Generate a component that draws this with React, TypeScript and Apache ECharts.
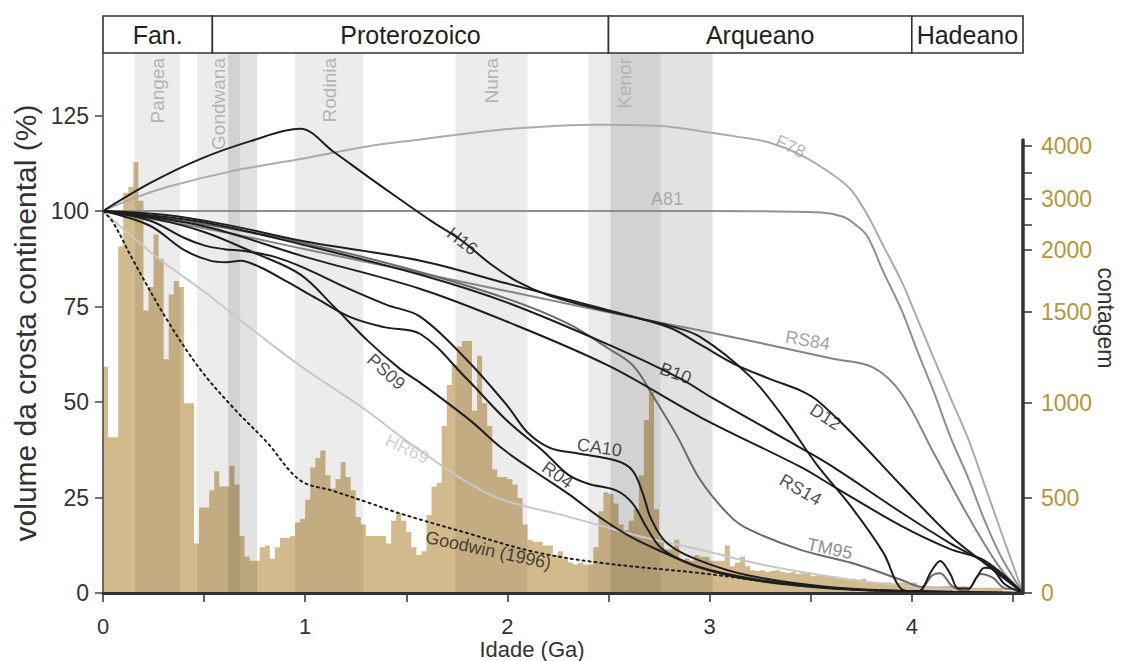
import React, { useEffect, useRef } from "react";
import * as echarts from "echarts";

// ---------------- DATA ----------------
// Eons (header boxes), Ga
const EONS = ["Fan.", "Proterozoico", "Arqueano", "Hadeano"];
const EON_START = [0, 0.541, 2.5, 4.0];
const EON_END = [0.541, 2.5, 4.0, 4.55];

// Supercontinent bands, Ga
const SC_NAMES = ["Pangea", "Gondwana", "Rodinia", "Nuna", "Kenor"];
const SC_START = [0.158, 0.465, 0.95, 1.743, 2.4];
const SC_END = [0.381, 0.762, 1.287, 2.099, 3.015];
const SC_PEAK_START: (number | null)[] = [null, 0.619, null, null, 2.51];
const SC_PEAK_END: (number | null)[] = [null, 0.678, null, null, 2.757];

// Axis ticks
const X_TICKS = [0, 0.5, 1, 1.5, 2, 2.5, 3, 3.5, 4, 4.5];
const X_LABELS = [0, 1, 2, 3, 4];
const Y_TICKS = [0, 25, 50, 75, 100, 125];
const COUNT_TICKS = [0, 500, 1000, 1500, 2000, 2500, 3000, 3500, 4000];
const COUNT_LABELS = [0, 500, 1000, 1500, 2000, 3000, 4000];
// position of each count tick on the (non-linear) count axis, in % units of the left axis
const COUNT_TICK_POS = [0, 24.9, 49.7, 73.6, 89.8, 96.3, 103.1, 110, 117];

// Zircon age histogram (counts), bins of 0.025 Ga starting at 0
const HIST_BIN = 0.025;
const HIST_COUNTS = [
  1200, 820, 820, 2070, 3120, 3230, 3700, 2970, 1510, 1700,
  2310, 1930, 1240, 1640, 1750, 1700, 1000, 1000, 260, 450,
  450, 540, 640, 560, 560, 670, 570, 300, 190, 170,
  170, 240, 250, 180, 240, 290, 290, 300, 370, 390,
  490, 660, 710, 750, 620, 550, 600, 690, 610, 540,
  400, 360, 300, 300, 300, 300, 260, 380, 420, 380,
  320, 240, 200, 220, 410, 560, 580, 880, 1100, 1210,
  1310, 1340, 1340, 960, 1260, 1000, 880, 650, 610, 610,
  600, 570, 500, 360, 280, 270, 270, 250, 250, 200,
  220, 180, 160, 150, 160, 150, 150, 240, 430, 530,
  520, 470, 360, 330, 380, 440, 620, 910, 1060, 440,
  290, 230, 230, 280, 170, 180, 170, 200, 190, 190,
  170, 170, 170, 250, 140, 160, 190, 140, 120, 115,
  120, 110, 115, 120, 110, 105, 110, 100, 105, 110,
  90, 95, 90, 85, 90, 75, 75, 70, 75, 70,
  75, 55, 55, 50, 55, 55, 50, 55, 55, 50,
  55, 35, 38, 35, 36, 35, 38, 36, 35, 36,
  35, 28, 28, 27, 28, 28, 27, 28, 12, 12,
  12, 12,
];

// Crustal growth curves: [age Ga, volume %]
const F78 = [[0, 100], [0.15, 103.3], [0.317, 106.3], [0.644, 110.5], [0.975, 113.6], [1.307, 116.9], [1.57, 118.7], [1.965, 121.3], [2.46, 122.6], [2.75, 122.3], [2.955, 120.9], [3.12, 119.6], [3.29, 118], [3.45, 114.7], [3.61, 109.5], [3.7, 105.5], [3.78, 99], [3.86, 90.8], [3.95, 81.5], [4.03, 71.5], [4.11, 61.3], [4.19, 51.3], [4.28, 40.2], [4.36, 28.3], [4.44, 16.3], [4.55, 0]];
const A81 = [[0, 100], [1.0, 100], [2.0, 100], [3.0, 100], [3.55, 99.6], [3.66, 98.5], [3.72, 96.5], [3.78, 93.4], [3.86, 84], [3.95, 74], [4.03, 63], [4.11, 52.5], [4.19, 41], [4.28, 30], [4.36, 19], [4.44, 9.7], [4.55, 0]];
const RS84 = [[0, 100], [0.5, 95.5], [1.0, 90], [1.5, 84.5], [2.0, 79], [2.5, 73.5], [2.955, 68.7], [3.29, 65], [3.61, 61.3], [3.81, 59], [3.95, 52.1], [4.11, 36.5], [4.28, 20], [4.44, 6.3], [4.55, 0]];
const TM95 = [[0, 100], [0.5, 96.5], [1.0, 91.5], [1.5, 85], [2.0, 77], [2.3, 70.5], [2.5, 64], [2.624, 59.4], [2.723, 51.3], [2.84, 41], [2.955, 29.5], [3.104, 20], [3.2, 16.5], [3.45, 11.3], [3.7, 7.9], [3.95, 3.4], [4.01, 2.1], [4.05, 1.6], [4.1, 4.6], [4.14, 5.2], [4.2, 1.8], [4.27, 0.5], [4.34, 5], [4.4, 4], [4.46, 1.2], [4.51, 1], [4.55, 0]];
const HR69 = [[0, 100], [0.15, 93], [0.3, 86.5], [0.48, 79.7], [0.75, 68.5], [0.975, 59.5], [1.31, 47.5], [1.47, 41], [1.63, 35], [1.8, 29], [1.97, 24.5], [2.3, 20], [2.63, 15.2], [2.955, 11.3], [3.3, 7], [3.7, 3.5], [4.1, 1.2], [4.55, 0]];
const GOODWIN = [[0, 100], [0.05, 97], [0.15, 87], [0.317, 71.5], [0.48, 58.6], [0.644, 48.5], [0.81, 39.5], [0.975, 29.5], [1.14, 26.7], [1.31, 23.7], [1.47, 20.8], [1.8, 15.7], [2.13, 10.8], [2.46, 7.9], [2.955, 5.2], [3.45, 2], [3.9, 0.5], [4.55, 0]];
const H16 = [[0, 100], [0.232, 107.3], [0.48, 113.6], [0.73, 118.3], [0.975, 121.5], [1.14, 115.5], [1.31, 109], [1.47, 103], [1.62, 97.5], [1.77, 92.4], [1.92, 86], [2.05, 81.5], [2.2, 78], [2.4, 75], [2.6, 72.5], [2.8, 70], [2.955, 67], [3.2, 56.7], [3.37, 45.7], [3.53, 33.6], [3.7, 22.6], [3.86, 10.5], [3.95, 1], [4.03, 0.3], [4.1, 6], [4.14, 8.4], [4.19, 5], [4.23, 1.2], [4.28, 1.2], [4.32, 4], [4.36, 6.6], [4.4, 6.2], [4.46, 2.3], [4.55, 0]];
const D12 = [[0, 100], [0.3, 99], [0.6, 96.5], [1.0, 92], [1.57, 87], [2.0, 81], [2.5, 74], [2.8, 69.5], [2.955, 65], [3.12, 60], [3.3, 56], [3.45, 53], [3.53, 50.5], [3.7, 42], [3.95, 28], [4.19, 15], [4.36, 7.8], [4.55, 0]];
const B10 = [[0, 100], [0.5, 97], [1.0, 91], [1.57, 83.3], [2.0, 76], [2.5, 65], [2.86, 56], [3.0, 51.5], [3.45, 38], [3.61, 33], [3.95, 21], [4.19, 13], [4.36, 8], [4.55, 0]];
const RS14 = [[0, 100], [0.5, 96], [1.0, 88], [1.57, 79.6], [2.0, 71], [2.5, 59.5], [2.955, 46], [3.45, 33], [3.61, 28], [3.95, 17.5], [4.19, 11.5], [4.36, 8.5], [4.55, 0]];
const CA10 = [[0, 100], [0.23, 97.5], [0.4, 93], [0.5, 91], [0.6, 90], [0.7, 89.5], [0.85, 88], [1.0, 85], [1.2, 80], [1.4, 75.5], [1.57, 72.3], [1.8, 61], [2.0, 49], [2.1, 42], [2.21, 38], [2.35, 36.5], [2.54, 34.6], [2.62, 32], [2.67, 26], [2.71, 19.5], [2.79, 13], [2.955, 8.4], [3.2, 4.5], [3.6, 1.5], [4.0, 0.5], [4.55, 0]];
const R04 = [[0, 100], [0.23, 96.2], [0.4, 89.8], [0.53, 87], [0.61, 86.6], [0.68, 87], [0.78, 85.2], [0.91, 81.5], [1.06, 77], [1.22, 72.3], [1.39, 69.6], [1.57, 67.8], [1.8, 56], [2.0, 45], [2.18, 37], [2.3, 31], [2.4, 28.6], [2.54, 26.8], [2.62, 23.4], [2.69, 17], [2.76, 11.8], [2.87, 8.4], [3.0, 6], [3.3, 3], [3.7, 1], [4.2, 0.3], [4.55, 0]];
const PS09 = [[0, 100], [0.25, 98], [0.5, 94.5], [0.75, 89], [0.975, 83.4], [1.14, 75.1], [1.31, 66], [1.47, 58.6], [1.57, 55], [1.82, 45], [1.97, 38], [2.13, 32], [2.3, 26], [2.46, 19.7], [2.62, 14.4], [2.79, 10.2], [2.955, 6.6], [3.2, 3.5], [3.6, 1.2], [4.0, 0.4], [4.55, 0]];

// ---------------- STYLE / LAYOUT ----------------
const FONT = "'Liberation Sans', Arial, Helvetica, sans-serif";
const NARROW = "'Liberation Sans Narrow', 'Arial Narrow', 'Liberation Sans', Arial, sans-serif";
const X_MAX = 4.55;
const GRID_LEFT = 103;
const GRID_RIGHT = 108;
const GRID_BOTTOM = 68;
const MAIN_TOP = 53;
const COUNT_TOP = 140;
const PX_PER_UNIT = 3.82;
const H = 661;
const MAIN_MAX = (H - GRID_BOTTOM - MAIN_TOP) / PX_PER_UNIT;
const COUNT_MAX = (H - GRID_BOTTOM - COUNT_TOP) / PX_PER_UNIT;

const BLACK = "#1e1e1e";

const CURVES: { name: string; data: number[][]; color: string; width: number; dotted?: boolean }[] = [
  { name: "F78", data: F78, color: "#ababab", width: 2 },
  { name: "A81", data: A81, color: "#8f8f8f", width: 2 },
  { name: "HR69", data: HR69, color: "#c8c8c8", width: 2 },
  { name: "RS84", data: RS84, color: "#858585", width: 2 },
  { name: "TM95", data: TM95, color: "#6a6a6a", width: 2 },
  { name: "Goodwin (1996)", data: GOODWIN, color: BLACK, width: 2, dotted: true },
  { name: "H16", data: H16, color: BLACK, width: 2 },
  { name: "D12", data: D12, color: BLACK, width: 2 },
  { name: "B10", data: B10, color: BLACK, width: 2 },
  { name: "RS14", data: RS14, color: BLACK, width: 2 },
  { name: "CA10", data: CA10, color: BLACK, width: 2 },
  { name: "R04", data: R04, color: BLACK, width: 2 },
  { name: "PS09", data: PS09, color: BLACK, width: 2 },
];

// curve annotations (anchor in data coords)
const LINE_LABELS = [
  { text: "H16", at: [1.777, 92.1], rotate: -38, color: BLACK },
  { text: "PS09", at: [1.4, 57.9], rotate: -42, color: BLACK },
  { text: "HR69", at: [1.505, 37.7], rotate: -25, color: "#c5c5c5" },
  { text: "Goodwin (1996)", at: [1.906, 11.2], rotate: -12, color: BLACK },
  { text: "R04", at: [2.248, 30.9], rotate: -35, color: BLACK },
  { text: "CA10", at: [2.455, 38.1], rotate: -8, color: BLACK },
  { text: "B10", at: [2.832, 57.5], rotate: -20, color: BLACK },
  { text: "D12", at: [3.574, 46.1], rotate: -33, color: BLACK },
  { text: "RS14", at: [3.45, 27], rotate: -30, color: BLACK },
  { text: "TM95", at: [3.594, 11.6], rotate: -12, color: "#6f6f6f" },
  { text: "RS84", at: [3.485, 66.1], rotate: -10, color: "#8a8a8a" },
  { text: "F78", at: [3.4, 116.9], rotate: -25, color: "#a5a5a5" },
  { text: "A81", at: [2.79, 103.1], rotate: 0, color: "#9a9a9a" },
];

function countToPos(c: number): number {
  for (let i = 1; i < COUNT_TICKS.length; i++) {
    if (c <= COUNT_TICKS[i]) {
      const t = (c - COUNT_TICKS[i - 1]) / (COUNT_TICKS[i] - COUNT_TICKS[i - 1]);
      return COUNT_TICK_POS[i - 1] + t * (COUNT_TICK_POS[i] - COUNT_TICK_POS[i - 1]);
    }
  }
  return COUNT_TICK_POS[COUNT_TICK_POS.length - 1];
}

function buildOption(): any {
  const histData: number[][] = HIST_COUNTS.map((c, i) => [i * HIST_BIN, countToPos(c)]);
  histData.push([HIST_COUNTS.length * HIST_BIN, countToPos(HIST_COUNTS[HIST_COUNTS.length - 1])]);

  const countLabelPos = COUNT_LABELS.map((c) => countToPos(c));

  const lineSeries = CURVES.map((c) => ({
    type: "line",
    name: c.name,
    xAxisIndex: 0,
    yAxisIndex: 0,
    data: c.data,
    smooth: 0.35,
    symbol: "none",
    silent: true,
    z: 3,
    lineStyle: {
      color: c.color,
      width: c.width,
      type: c.dotted ? [2, 4] : "solid",
      cap: c.dotted ? "round" : "butt",
    },
  }));

  return {
    animation: false,
    backgroundColor: "#ffffff",
    textStyle: { fontFamily: FONT },
    grid: [
      { left: GRID_LEFT, right: GRID_RIGHT, top: MAIN_TOP, bottom: GRID_BOTTOM, outerBoundsMode: "none", containLabel: false },
      { left: GRID_LEFT, right: GRID_RIGHT, top: COUNT_TOP, bottom: GRID_BOTTOM, outerBoundsMode: "none", containLabel: false },
      { left: GRID_LEFT, right: GRID_RIGHT, top: 16, height: 37, outerBoundsMode: "none", containLabel: false },
    ],
    xAxis: [
      {
        gridIndex: 0,
        type: "value",
        min: 0,
        max: X_MAX,
        z: 10,
        axisLine: { show: true, onZero: false, lineStyle: { color: "#333", width: 3 } },
        axisTick: { show: true, customValues: X_TICKS, length: 9, lineStyle: { color: "#333", width: 1.5 } },
        axisLabel: {
          customValues: X_LABELS,
          formatter: (v: number) => String(v),
          fontSize: 22,
          color: "#333",
          margin: 22,
          fontFamily: NARROW,
        },
        splitLine: { show: false },
        name: "Idade (Ga)",
        nameLocation: "middle",
        nameGap: 45,
        nameMoveOverlap: false,
        nameTextStyle: { fontSize: 22, color: "#333", fontFamily: NARROW, padding: [0, 62, 0, 0] },
      },
      { gridIndex: 1, type: "value", min: 0, max: X_MAX, show: false },
      { gridIndex: 2, type: "value", min: 0, max: X_MAX, show: false },
    ],
    yAxis: [
      {
        gridIndex: 0,
        type: "value",
        min: 0,
        max: MAIN_MAX,
        z: 10,
        axisLine: { show: true, onZero: false, lineStyle: { color: "#444", width: 1.5 } },
        axisTick: { show: true, customValues: Y_TICKS, length: 8, lineStyle: { color: "#444", width: 1.5 } },
        axisLabel: { customValues: Y_TICKS, fontSize: 23, color: "#333", margin: 14, fontFamily: FONT },
        splitLine: { show: false },
        name: "volume da crosta continental (%)",
        nameLocation: "middle",
        nameGap: 63,
        nameMoveOverlap: false,
        nameTextStyle: { fontSize: 30, color: "#333", fontFamily: FONT },
      },
      {
        gridIndex: 1,
        type: "value",
        position: "right",
        min: 0,
        max: COUNT_MAX,
        z: 10,
        axisLine: { show: true, onZero: false, lineStyle: { color: "#333", width: 3.5 } },
        axisTick: { show: true, customValues: COUNT_TICK_POS, length: 9, lineStyle: { color: "#333", width: 1.5 } },
        axisLabel: {
          customValues: countLabelPos,
          formatter: (v: number) => {
            const i = COUNT_TICK_POS.findIndex((p) => Math.abs(p - v) < 0.01);
            return i >= 0 ? String(COUNT_TICKS[i]) : "";
          },
          fontSize: 23,
          color: "#b5963a",
          margin: 18,
          fontFamily: FONT,
        },
        splitLine: { show: false },
      },
      { gridIndex: 2, type: "value", min: 0, max: 1, show: false },
    ],
    graphic: [
      {
        type: "text",
        x: 1106,
        y: 318,
        rotation: -Math.PI / 2,
        style: {
          text: "contagem",
          fill: "#333",
          fontSize: 23,
          fontFamily: FONT,
          align: "center",
          verticalAlign: "middle",
        },
      },
    ],
    series: [
      {
        type: "line",
        name: "histograma",
        xAxisIndex: 1,
        yAxisIndex: 1,
        data: histData,
        step: "end",
        symbol: "none",
        silent: true,
        z: 1,
        lineStyle: { width: 0, color: "#d3ba8c" },
        areaStyle: { color: "#d3ba8c", opacity: 1 },
      },
      {
        type: "custom",
        name: "supercontinentes",
        xAxisIndex: 0,
        yAxisIndex: 0,
        silent: true,
        z: 2,
        data: SC_NAMES.map((n, i) => [SC_START[i], SC_END[i]]),
        renderItem: (params: any, api: any) => {
          const i = params.dataIndex;
          const cs = params.coordSys;
          const x0 = api.coord([SC_START[i], 0])[0];
          const x1 = api.coord([SC_END[i], 0])[0];
          const children: any[] = [
            { type: "rect", shape: { x: x0, y: cs.y, width: x1 - x0, height: cs.height }, style: { fill: "rgba(0,0,0,0.075)" } },
          ];
          let labelRight = x1;
          const ps = SC_PEAK_START[i];
          const pe = SC_PEAK_END[i];
          if (ps != null && pe != null) {
            const px0 = api.coord([ps, 0])[0];
            const px1 = api.coord([pe, 0])[0];
            children.push({ type: "rect", shape: { x: px0, y: cs.y, width: x1 - px0, height: cs.height }, style: { fill: "rgba(0,0,0,0.04)" } });
            children.push({ type: "rect", shape: { x: px0, y: cs.y, width: px1 - px0, height: cs.height }, style: { fill: "rgba(0,0,0,0.07)" } });
            labelRight = px1;
          }
          children.push({
            type: "text",
            x: (x0 + labelRight) / 2,
            y: cs.y + 5,
            rotation: Math.PI / 2,
            style: {
              text: SC_NAMES[i],
              fill: "#b3b3b3",
              fontSize: 19,
              fontFamily: FONT,
              align: "right",
              verticalAlign: "middle",
            },
          });
          return { type: "group", children };
        },
      },
      {
        type: "custom",
        name: "eons",
        xAxisIndex: 2,
        yAxisIndex: 2,
        silent: true,
        z: 2,
        data: EONS.map((n, i) => [EON_START[i], EON_END[i]]),
        renderItem: (params: any, api: any) => {
          const i = params.dataIndex;
          const a = api.coord([EON_START[i], 1]);
          const b = api.coord([EON_END[i], 0]);
          return {
            type: "group",
            children: [
              { type: "rect", shape: { x: a[0], y: a[1], width: b[0] - a[0], height: b[1] - a[1] }, style: { fill: "#fff", stroke: "#333", lineWidth: 1.6 } },
              {
                type: "text",
                x: (a[0] + b[0]) / 2,
                y: (a[1] + b[1]) / 2,
                style: { text: EONS[i], fill: "#222", fontSize: 25, fontFamily: NARROW, align: "center", verticalAlign: "middle" },
              },
            ],
          };
        },
      },
      ...lineSeries,
      {
        type: "scatter",
        name: "rotulos",
        xAxisIndex: 0,
        yAxisIndex: 0,
        silent: true,
        symbolSize: 1,
        z: 5,
        itemStyle: { color: "rgba(0,0,0,0)" },
        label: { show: true, position: "inside", fontSize: 18, fontFamily: FONT },
        data: LINE_LABELS.map((l) => ({
          value: l.at,
          label: { show: true, position: "inside", formatter: l.text, rotate: l.rotate, color: l.color, fontSize: 18 },
        })),
      },
    ],
  };
}

export default function App() {
  const ref = useRef<HTMLDivElement>(null);
  useEffect(() => {
    document.body.style.margin = "0";
    const chart = echarts.init(ref.current!, null, { renderer: "svg" });
    chart.setOption(buildOption());
    return () => chart.dispose();
  }, []);
  return <div ref={ref} style={{ position: "fixed", left: 0, top: 0, width: 1131, height: 661 }} />;
}
